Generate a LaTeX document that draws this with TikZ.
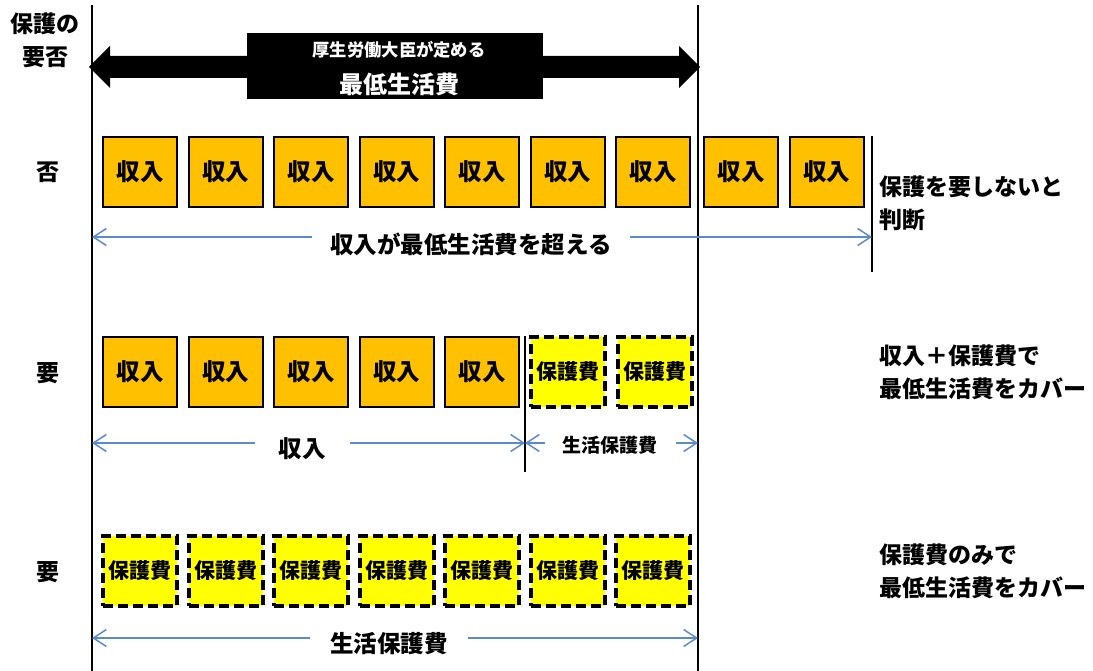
\documentclass[tikz,border=0pt]{standalone}
\usepackage{fontspec}
\setmainfont{Noto Sans CJK JP}
\usetikzlibrary{arrows.meta}
\definecolor{incfill}{HTML}{FFC000}
\definecolor{aidfill}{HTML}{FFFF00}
\definecolor{arrowblue}{HTML}{5B8BCF}
\newcommand\fsz[1]{\fontsize{#1pt}{#1pt}\selectfont\bfseries}
\begin{document}
\begin{tikzpicture}[x=1pt,y=-1pt,
  inc/.style={draw=black,line width=2pt,fill=incfill,minimum width=74pt,minimum height=70pt,inner sep=0pt,font=\fsz{23.5}},
  aid/.style={draw=black,line width=4pt,dash pattern=on 10pt off 5pt,fill=aidfill,minimum width=74pt,minimum height=70pt,inner sep=0pt,font=\fsz{21}},
  vline/.style={draw=black,line width=2pt},
  barrow/.style={draw=arrowblue,line width=1.5pt,{Straight Barb[length=13pt,width=17pt]}-{Straight Barb[length=13pt,width=17pt]}},
  blabel/.style={fill=white,inner ysep=2pt,inner xsep=18pt,font=\fsz{#1}},
  lbl/.style={font=\fsz{23},inner sep=0pt},
  rtext/.style={font=\fontsize{23pt}{33pt}\selectfont\bfseries,align=left,anchor=west,inner sep=0pt}
]
\useasboundingbox (0,0) rectangle (1093,671);
% vertical lines
\coordinate (vLt) at (92,5);  \coordinate (vLb) at (92,671);
\coordinate (vMt) at (698,5); \coordinate (vMb) at (698,671);
\coordinate (vRt) at (872,136); \coordinate (vRb) at (872,272);
\coordinate (vDt) at (525,336); \coordinate (vDb) at (525,472);
\draw[vline] (vLt) -- (vLb);
\draw[vline] (vMt) -- (vMb);
\draw[vline] (vRt) -- (vRb);
\draw[vline] (vDt) -- (vDb);
% header
\node[lbl,align=center,font=\fontsize{23pt}{33pt}\selectfont\bfseries] (hdr) at (45,40) {保護の\\要否};
\fill[black] (89,67) -- (110,46) -- (110,56) -- (679,56) -- (679,46) -- (700,67) -- (679,88) -- (679,78) -- (110,78) -- (110,88) -- cycle;
\node[fill=black,minimum width=296pt,minimum height=66pt,inner sep=0pt] (minbox) at (395,66) {};
\node[text=white,font=\fsz{17.3},inner sep=0pt] (minl1) at (399,50) {厚生労働大臣が定める};
\node[text=white,font=\fsz{24},inner sep=0pt] (minl2) at (399,84) {最低生活費};
% row labels
\node[lbl] (row1) at (48,172) {否};
\node[lbl] (row2) at (48,373) {要};
\node[lbl] (row3) at (48,572) {要};
% row 1
\foreach \i in {0,...,6} {
  \node[inc] (r1b\i) at ({140+85.5*\i},172) {収入};
}
\node[inc] (r1b7) at (741,172) {収入};
\node[inc] (r1b8) at (826.5,172) {収入};
\coordinate (a1l) at (92,237); \coordinate (a1r) at (872,237);
\draw[barrow] (a1l) -- (a1r);
\node[blabel=23.5] (a1t) at (471,244) {収入が最低生活費を超える};
% row 2
\foreach \i in {0,...,4} {
  \node[inc] (r2b\i) at ({140+85.5*\i},371.5) {収入};
}
\node[aid] (r2b5) at (568,371.5) {保護費};
\node[aid] (r2b6) at (655,371.5) {保護費};
\coordinate (a2l) at (92,443); \coordinate (a2m) at (525,443); \coordinate (a2r) at (698,443);
\draw[barrow] (a2l) -- (a2m);
\draw[barrow] (a2m) -- (a2r);
\node[blabel=23.5,inner xsep=24pt] (a2t) at (302,449) {収入};
\node[blabel=19] (a2u) at (610,445) {生活保護費};
% row 3
\foreach \i in {0,...,6} {
  \node[aid] (r3b\i) at ({140+85.5*\i},571) {保護費};
}
\coordinate (a3l) at (92,638); \coordinate (a3r) at (698,638);
\draw[barrow] (a3l) -- (a3r);
\node[blabel=23.5,inner xsep=20pt] (a3t) at (389,644) {生活保護費};
% right texts
\node[rtext] (t1) at (879,203) {保護を要しないと\\判断};
\node[rtext] (t2) at (879,372) {収入＋保護費で\\最低生活費をカバー};
\node[rtext] (t3) at (879,571) {保護費のみで\\最低生活費をカバー};
\end{tikzpicture}
\end{document}
